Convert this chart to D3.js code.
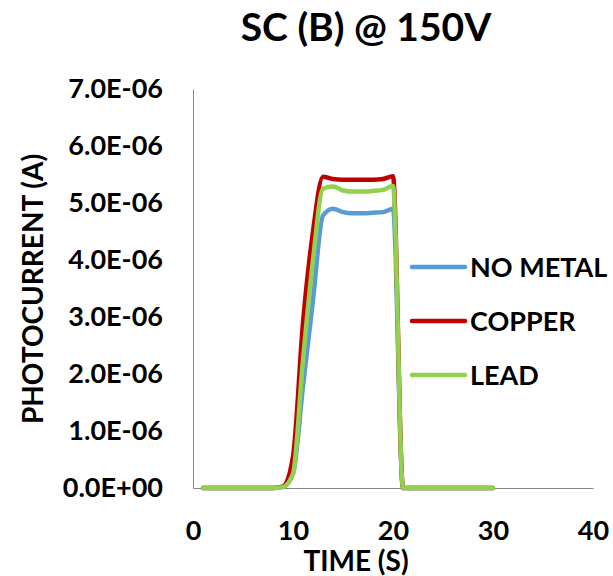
<!DOCTYPE html>
<html>
<head>
<meta charset="utf-8">
<script src="https://cdn.jsdelivr.net/npm/d3@7"></script>
<style>
  body { margin: 0; background: #fff; }
  text { font-family: Lato, "Open Sans", sans-serif; font-weight: bold; fill: #000; }
</style>
</head>
<body>
<div id="chart"></div>
<script>
// photocurrent readings, one per second (values in amps)
const time = [1, 2, 3, 4, 5, 6, 7, 8, 9, 10, 11, 12, 13, 14, 15, 16, 17, 18, 19, 20, 21, 22, 23, 24, 25, 26, 27, 28, 29, 30];
const noMetal = [0, 0, 0, 0, 0, 0, 0, 0, 0.02e-6, 0.25e-6, 1.78e-6, 3.3e-6, 4.78e-6, 4.9e-6, 4.84e-6, 4.82e-6, 4.82e-6, 4.83e-6, 4.84e-6, 4.9e-6, 0, 0, 0, 0, 0, 0, 0, 0, 0, 0];
const copper = [0, 0, 0, 0, 0, 0, 0, 0, 0.03e-6, 0.55e-6, 2.9e-6, 4.5e-6, 5.46e-6, 5.42e-6, 5.41e-6, 5.41e-6, 5.41e-6, 5.41e-6, 5.42e-6, 5.47e-6, 0, 0, 0, 0, 0, 0, 0, 0, 0, 0];
const lead = [0, 0, 0, 0, 0, 0, 0, 0, 0.02e-6, 0.25e-6, 2.25e-6, 4.0e-6, 5.25e-6, 5.29e-6, 5.22e-6, 5.2e-6, 5.2e-6, 5.21e-6, 5.23e-6, 5.3e-6, 0, 0, 0, 0, 0, 0, 0, 0, 0, 0];

const seriesNames = ['NO METAL', 'COPPER', 'LEAD'];
const seriesColors = ['#5B9BD5', '#C00000', '#92D050'];
const xTicks = [0, 10, 20, 30, 40];
const yTicks = [0, 1e-6, 2e-6, 3e-6, 4e-6, 5e-6, 6e-6, 7e-6];

const width = 613, height = 576;
const margin = { top: 89, right: 20, bottom: 88, left: 193 };

const svg = d3.select('#chart')
    .append('svg')
    .attr('width', width)
    .attr('height', height);

const x = d3.scaleLinear().domain([0, 40]).range([margin.left, 593]);
const y = d3.scaleLinear().domain([0, 7e-6]).range([height - margin.bottom, margin.top]);

// excel style scientific label, e.g. 7.0E-06
function sci(v) {
    if (v === 0) return '0.0E+00';
    const e = Math.floor(Math.log10(v) + 1e-9);
    const m = v / Math.pow(10, e);
    const sign = e < 0 ? '-' : '+';
    return m.toFixed(1) + 'E' + sign + String(Math.abs(e)).padStart(2, '0');
}

// axes
const xAxis = svg.append('g')
    .attr('transform', `translate(0,${y(0)})`)
    .call(d3.axisBottom(x).tickValues(xTicks).tickSize(0).tickPadding(33));
const yAxis = svg.append('g')
    .attr('transform', `translate(${x(0)},0)`)
    .call(d3.axisLeft(y).tickValues(yTicks).tickFormat(sci).tickSize(0).tickPadding(30));

[xAxis, yAxis].forEach(g => {
    g.select('.domain').attr('stroke', '#868686').attr('stroke-width', 1);
    g.selectAll('text').attr('font-size', 27).attr('font-family', 'Lato').attr('font-weight', 'bold').attr('fill', '#000');
});

// lines
const line = d3.line()
    .x((d, i) => x(time[i]))
    .y(d => y(d))
    .curve(d3.curveMonotoneX);

[noMetal, copper, lead].forEach((s, i) => {
    svg.append('path')
        .datum(s)
        .attr('d', line)
        .attr('fill', 'none')
        .attr('stroke', seriesColors[i])
        .attr('stroke-width', 4.5)
        .attr('stroke-linejoin', 'round')
        .attr('stroke-linecap', 'round');
});

// legend
const legend = svg.append('g');
seriesNames.forEach((name, i) => {
    const ly = 267 + i * 54;
    legend.append('line')
        .attr('x1', 412).attr('x2', 465)
        .attr('y1', ly).attr('y2', ly)
        .attr('stroke', seriesColors[i])
        .attr('stroke-width', 4.5)
        .attr('stroke-linecap', 'round');
    legend.append('text')
        .attr('x', 470)
        .attr('y', ly + 10)
        .attr('font-size', 27)
        .text(name);
});

// titles
svg.append('text')
    .attr('x', 366).attr('y', 41)
    .attr('text-anchor', 'middle')
    .attr('font-size', 39)
    .text('SC (B) @ 150V');

svg.append('text')
    .attr('x', 356).attr('y', 571)
    .attr('text-anchor', 'middle')
    .attr('font-size', 28)
    .text('TIME (S)');

svg.append('text')
    .attr('transform', `translate(43,289) rotate(-90)`)
    .attr('text-anchor', 'middle')
    .attr('font-size', 28)
    .text('PHOTOCURRENT (A)');
</script>
</body>
</html>
